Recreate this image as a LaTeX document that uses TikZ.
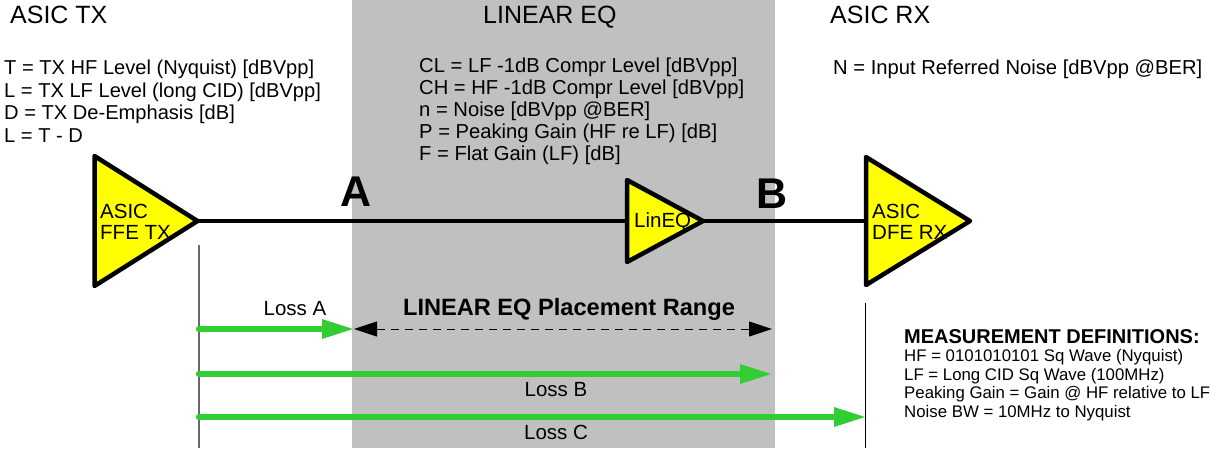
\documentclass[tikz,border=0pt]{standalone}
\usepackage{fontspec}
\setmainfont{Liberation Sans}
\usetikzlibrary{shapes.geometric,arrows.meta}
\definecolor{bandgray}{RGB}{192,192,192}
\definecolor{lossgreen}{RGB}{50,205,50}
\definecolor{tickgray}{RGB}{105,105,105}
\definecolor{ampyellow}{RGB}{255,255,0}
\tikzset{
 x=1pt,y=-1pt,
 amp/.style={isosceles triangle,isosceles triangle stretches,shape border rotate=0,draw=black,fill=ampyellow,line width=4.5pt,line join=round,inner sep=0pt,outer sep=0pt,anchor=lower side},
 head/.style={anchor=base west,font=\fontsize{25}{28}\selectfont,inner sep=0pt},
 bodyl/.style={anchor=north west,align=left,inner sep=0pt,font=\fontsize{20.1}{22.6}\selectfont},
 bodym/.style={anchor=north west,align=left,inner sep=0pt,font=\fontsize{20.2}{22}\selectfont},
 amptext/.style={anchor=west,align=left,inner sep=0pt,font=\fontsize{20.5}{21.5}\selectfont},
 letter/.style={inner sep=0pt,font=\fontsize{43}{45}\bfseries\selectfont},
 loss/.style={inner sep=0pt,font=\fontsize{20.5}{22}\selectfont},
 lossline/.style={draw=lossgreen,line width=6.5pt,line cap=round},
 losstip/.style={fill=lossgreen},
}
\begin{document}
\begin{tikzpicture}
\useasboundingbox (0,0) rectangle (1211,448);
\fill[bandgray] (352,0) rectangle (775,448);
% titles
\node[head] (ttx) at (10,23) {ASIC TX};
\node[head] (teq) at (483,23) {LINEAR EQ};
\node[head] (trx) at (830,23) {ASIC RX};
% text blocks
\node[bodyl] (btx) at (4,60) {T = TX HF Level (Nyquist) [dBVpp]\\L = TX LF Level (long CID) [dBVpp]\\D = TX De-Emphasis [dB]\\L = T - D};
\node[bodym] (beq) at (419,58) {CL = LF -1dB Compr Level [dBVpp]\\CH = HF -1dB Compr Level [dBVpp]\\n = Noise [dBVpp @BER]\\P = Peaking Gain (HF re LF) [dB]\\F = Flat Gain (LF) [dB]};
\node[bodym] (brx) at (833,60) {N = Input Referred Noise [dBVpp @BER]};
% amplifiers
\node[amp,minimum width=130pt,minimum height=103pt] (ampTx) at (94.5,221) {};
\node[amp,minimum width=82pt,minimum height=76pt] (ampEq) at (627,221) {};
\node[amp,minimum width=128pt,minimum height=104pt] (ampRx) at (866,221) {};
\draw[line width=4.2pt] (ampTx.apex) -- (ampEq.lower side);
\draw[line width=4.2pt] (ampEq.apex) -- (ampRx.lower side);
\node[amptext] (ltx) at (100,222) {ASIC\\FFE TX};
\node[amptext] (leq) at (634,222) {LinEQ};
\node[amptext] (lrx) at (872,222) {ASIC\\DFE RX};
\node[letter] (la) at (356,192) {A};
\node[letter] (lb) at (772,194) {B};
% verticals
\coordinate (v1a) at (199,245); \coordinate (v1b) at (199,448);
\coordinate (v2a) at (865.5,303); \coordinate (v2b) at (865.5,448);
\draw[tickgray,line width=1.3pt] (v1a) -- (v1b);
\draw[black,line width=1.3pt] (v2a) -- (v2b);
% range
\coordinate (ra) at (354,329); \coordinate (rb) at (772,329);
\draw[line width=1pt,dash pattern=on 8pt off 6pt,{Triangle[length=23pt,width=15pt]}-{Triangle[length=23pt,width=15pt]}] (ra) -- (rb);
\node[inner sep=0pt,font=\fontsize{23.6}{25}\bfseries\selectfont] (lr) at (569,309) {LINEAR EQ Placement Range};
% loss arrows
\coordinate (a0) at (199,329); \coordinate (a1) at (353,329);
\coordinate (b0) at (199,374); \coordinate (b1) at (771,374);
\coordinate (c0) at (199,417); \coordinate (c1) at (865,417);
\draw[lossline] (a0) -- ([xshift=-28pt]a1);
\draw[lossline] (b0) -- ([xshift=-28pt]b1);
\draw[lossline] (c0) -- ([xshift=-28pt]c1);
\fill[losstip] (a1) -- ++(-31,-10) -- ++(0,20) -- cycle;
\fill[losstip] (b1) -- ++(-31,-10) -- ++(0,20) -- cycle;
\fill[losstip] (c1) -- ++(-31,-10) -- ++(0,20) -- cycle;
\node[loss] (na) at (295,309) {Loss A};
\node[loss] (nb) at (556,390) {Loss B};
\node[loss] (nc) at (556,432) {Loss C};
% definitions
\node[anchor=north west,align=left,inner sep=0pt,font=\fontsize{16.8}{18.6}\selectfont] (defs) at (904,329) {{\fontsize{20}{20}\bfseries\selectfont MEASUREMENT DEFINITIONS:}\\HF = 0101010101 Sq Wave (Nyquist)\\LF = Long CID Sq Wave (100MHz)\\Peaking Gain = Gain @ HF relative to LF\\Noise BW = 10MHz to Nyquist};
\end{tikzpicture}
\end{document}
